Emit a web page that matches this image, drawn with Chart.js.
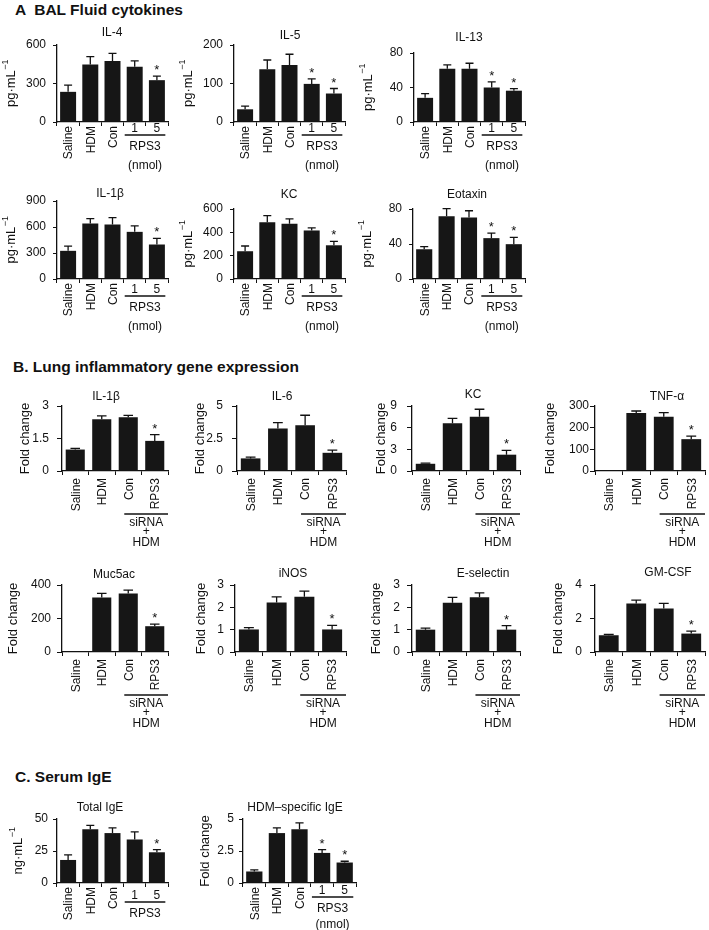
<!DOCTYPE html>
<html><head><meta charset="utf-8">
<script src="https://cdn.jsdelivr.net/npm/chart.js@4.4.1/dist/chart.umd.min.js"></script>
<style>
html,body{margin:0;padding:0;background:#fff;width:709px;height:930px;overflow:hidden;position:relative;font-family:"Liberation Sans",Arial,sans-serif;}
.hd{position:absolute;font-weight:bold;font-size:15.5px;line-height:18px;color:#111;white-space:pre;}
canvas{position:absolute;}
</style></head><body>
<div class="hd" style="left:15px;top:1px">A  BAL Fluid cytokines</div>
<div class="hd" style="left:13px;top:358px">B. Lung inflammatory gene expression</div>
<div class="hd" style="left:15px;top:768px">C. Serum IgE</div>
<script>
// ---------- categories ----------
const doseCats  = ['Saline','HDM','Con','1','5'];
const sirnaCats = ['Saline','HDM','Con','RPS3'];

// ---------- A. BAL fluid cytokines (pg·mL-1) ----------
const il4Mean  = [235, 449, 475, 430, 326];
const il4Err   = [52, 60, 60, 47, 32];
const il4Sig   = [0, 0, 0, 0, 1];
const il4Ticks = [0, 300, 600];

const il5Mean  = [33, 137, 148, 99, 74];
const il5Err   = [8, 24, 28, 13, 13];
const il5Sig   = [0, 0, 0, 1, 1];
const il5Ticks = [0, 100, 200];

const il13Mean  = [28, 61.6, 61.6, 40, 36.3];
const il13Err   = [5, 4.7, 6.5, 6.6, 2.5];
const il13Sig   = [0, 0, 0, 1, 1];
const il13Ticks = [0, 40, 80];

const il1bAMean  = [325, 640, 628, 544, 398];
const il1bAErr   = [54, 57, 80, 69, 70];
const il1bASig   = [0, 0, 0, 0, 1];
const il1bATicks = [0, 300, 600, 900];

const kcAMean  = [238, 487, 473, 416, 289];
const kcAErr   = [45, 56, 42, 23, 34];
const kcASig   = [0, 0, 0, 0, 1];
const kcATicks = [0, 200, 400, 600];

const eotMean  = [34, 71.6, 70.4, 46.7, 39.8];
const eotErr   = [3, 8.8, 7.6, 5.7, 7.7];
const eotSig   = [0, 0, 0, 1, 1];
const eotTicks = [0, 40, 80];

// ---------- B. Lung gene expression (fold change) ----------
const il1bBMean  = [0.99, 2.39, 2.48, 1.39];
const il1bBErr   = [0.05, 0.15, 0.09, 0.29];
const il1bBTicks = [0, 1.5, 3];

const il6Mean  = [0.97, 3.27, 3.52, 1.40];
const il6Err   = [0.1, 0.45, 0.77, 0.21];
const il6Ticks = [0, 2.5, 5];

const kcBMean  = [1.0, 6.6, 7.5, 2.26];
const kcBErr   = [0.1, 0.7, 1.05, 0.6];
const kcBTicks = [0, 3, 6, 9];

const tnfMean  = [1, 268, 250, 147];
const tnfErr   = [0, 9, 19, 14];
const tnfTicks = [0, 100, 200, 300];

const mucMean  = [1, 326, 349, 154];
const mucErr   = [0, 24, 20, 13];
const mucTicks = [0, 200, 400];

const inosMean  = [1.01, 2.22, 2.47, 1.01];
const inosErr   = [0.08, 0.25, 0.26, 0.18];
const inosTicks = [0, 1, 2, 3];

const eselMean  = [1.0, 2.2, 2.45, 1.0];
const eselErr   = [0.07, 0.25, 0.2, 0.18];
const eselTicks = [0, 1, 2, 3];

const gmMean  = [1.0, 2.9, 2.6, 1.1];
const gmErr   = [0.05, 0.2, 0.3, 0.15];
const gmTicks = [0, 1, 2, 3, 4];

const sirnaSig = [0, 0, 0, 1];

// ---------- C. Serum IgE ----------
const tigeMean  = [18, 42, 39, 34, 24];
const tigeErr   = [4, 3, 4, 6, 2];
const tigeSig   = [0, 0, 0, 0, 1];
const tigeTicks = [0, 25, 50];

const higeMean  = [0.9, 3.9, 4.2, 2.35, 1.6];
const higeErr   = [0.12, 0.4, 0.5, 0.25, 0.1];
const higeSig   = [0, 0, 0, 1, 1];
const higeTicks = [0, 2.5, 5];

// ---------- chart specs (built from the arrays above) ----------
const specs = [
  {title:'IL-4',  unit:'pg', cats:doseCats, mean:il4Mean,  err:il4Err,  sig:il4Sig,  ticks:il4Ticks,  group:'dose'},
  {title:'IL-5',  unit:'pg', cats:doseCats, mean:il5Mean,  err:il5Err,  sig:il5Sig,  ticks:il5Ticks,  group:'dose'},
  {title:'IL-13', unit:'pg', cats:doseCats, mean:il13Mean, err:il13Err, sig:il13Sig, ticks:il13Ticks, group:'dose'},
  {title:'IL-1β', unit:'pg', cats:doseCats, mean:il1bAMean,err:il1bAErr,sig:il1bASig,ticks:il1bATicks,group:'dose'},
  {title:'KC',    unit:'pg', cats:doseCats, mean:kcAMean,  err:kcAErr,  sig:kcASig,  ticks:kcATicks,  group:'dose'},
  {title:'Eotaxin',unit:'pg',cats:doseCats, mean:eotMean,  err:eotErr,  sig:eotSig,  ticks:eotTicks,  group:'dose'},
  {title:'IL-1β', unit:'fold', cats:sirnaCats, mean:il1bBMean, err:il1bBErr, sig:sirnaSig, ticks:il1bBTicks, group:'sirna'},
  {title:'IL-6',  unit:'fold', cats:sirnaCats, mean:il6Mean,   err:il6Err,   sig:sirnaSig, ticks:il6Ticks,   group:'sirna'},
  {title:'KC',    unit:'fold', cats:sirnaCats, mean:kcBMean,   err:kcBErr,   sig:sirnaSig, ticks:kcBTicks,   group:'sirna'},
  {title:'TNF-α', unit:'fold', cats:sirnaCats, mean:tnfMean,   err:tnfErr,   sig:sirnaSig, ticks:tnfTicks,   group:'sirna'},
  {title:'Muc5ac',unit:'fold', cats:sirnaCats, mean:mucMean,   err:mucErr,   sig:sirnaSig, ticks:mucTicks,   group:'sirna'},
  {title:'iNOS',  unit:'fold', cats:sirnaCats, mean:inosMean,  err:inosErr,  sig:sirnaSig, ticks:inosTicks,  group:'sirna'},
  {title:'E-selectin',unit:'fold',cats:sirnaCats,mean:eselMean,err:eselErr,  sig:sirnaSig, ticks:eselTicks,  group:'sirna'},
  {title:'GM-CSF',unit:'fold', cats:sirnaCats, mean:gmMean,    err:gmErr,    sig:sirnaSig, ticks:gmTicks,    group:'sirna'},
  {title:'Total IgE', unit:'ng', cats:doseCats, mean:tigeMean, err:tigeErr, sig:tigeSig, ticks:tigeTicks, group:'dose'},
  {title:'HDM–specific IgE', unit:'fold', cats:doseCats, mean:higeMean, err:higeErr, sig:higeSig, ticks:higeTicks, group:'dose'}
];

// ---------- layout (page pixels) ----------
const layouts = [
  {axisX:57,  top:45,  bottom:122, right:168, tx:112, ty:33,  yOff:46, lab:0, nm:44, tl:4, tp:7},
  {axisX:234, top:45,  bottom:122, right:345, tx:290, ty:36,  yOff:46, lab:0, nm:44, tl:4, tp:7},
  {axisX:414, top:53,  bottom:122, right:525, tx:469, ty:38,  yOff:46, lab:0, nm:44, tl:4, tp:7},
  {axisX:57,  top:201, bottom:279, right:168, tx:110, ty:194, yOff:46, lab:4, nm:44, tl:4, tp:7},
  {axisX:234, top:209, bottom:279, right:345, tx:289, ty:195, yOff:46, lab:4, nm:44, tl:4, tp:7},
  {axisX:413, top:209, bottom:279, right:525, tx:467, ty:195, yOff:46, lab:4, nm:44, tl:4, tp:7},
  {axisX:62,  top:406, bottom:471, right:168, tx:106, ty:397, yOff:37, lab:0, nm:44, tl:5, tp:8},
  {axisX:237, top:406, bottom:471, right:346, tx:282, ty:397, yOff:37, lab:0, nm:44, tl:5, tp:9},
  {axisX:412, top:406, bottom:471, right:520, tx:473, ty:395, yOff:31, lab:0, nm:44, tl:5, tp:10},
  {axisX:595, top:406, bottom:471, right:705, tx:667, ty:397, yOff:45, lab:0, nm:44, tl:5, tp:1},
  {axisX:62,  top:585, bottom:652, right:168, tx:114, ty:575, yOff:49, lab:0, nm:44, tl:5, tp:6},
  {axisX:235, top:585, bottom:652, right:346, tx:293, ty:574, yOff:34, lab:0, nm:44, tl:5, tp:6},
  {axisX:412, top:585, bottom:652, right:520, tx:483, ty:574, yOff:36, lab:0, nm:44, tl:5, tp:7},
  {axisX:595, top:585, bottom:652, right:705, tx:668, ty:573, yOff:37, lab:0, nm:44, tl:5, tp:8},
  {axisX:57,  top:819, bottom:883, right:168, tx:100, ty:808, yOff:39, lab:6, nm:52, tl:4, tp:5},
  {axisX:243, top:819, bottom:883, right:356, tx:295, ty:808, yOff:38, lab:1, nm:41, tl:4, tp:5}
];

const FONT = '"Liberation Sans", Arial, sans-serif';
const INK = '#111';
const W_Y = 60, H_X = 80;

function makeDecor(s, L, cLeft, cTop){
  return {
    id:'decor',
    afterDatasetsDraw(chart){
      const ctx = chart.ctx, ys = chart.scales.y;
      const meta = chart.getDatasetMeta(0);
      ctx.save();
      ctx.strokeStyle = INK; ctx.fillStyle = INK; ctx.lineWidth = 1.3;
      meta.data.forEach((bar, i) => {
        const x = bar.x;
        const y0 = ys.getPixelForValue(s.mean[i]);
        const y1 = ys.getPixelForValue(s.mean[i] + s.err[i]);
        const cw = bar.width * 0.5;
        if (s.err[i] > 0) {
          ctx.beginPath();
          ctx.moveTo(x, y0); ctx.lineTo(x, y1);
          ctx.moveTo(x - cw/2, y1); ctx.lineTo(x + cw/2, y1);
          ctx.stroke();
        }
        if (s.sig[i]) {
          ctx.font = '13px ' + FONT;
          ctx.textAlign = 'center'; ctx.textBaseline = 'alphabetic';
          ctx.fillText('*', x, y1 - 2);
        }
      });
      ctx.restore();
    },
    afterDraw(chart){
      const ctx = chart.ctx, xs = chart.scales.x;
      const area = chart.chartArea;
      const base = area.bottom;
      const n = s.cats.length;
      const cw = xs.getPixelForValue(1) - xs.getPixelForValue(0);
      ctx.save();
      ctx.fillStyle = INK; ctx.strokeStyle = INK;
      // chart title
      ctx.font = '12px ' + FONT;
      ctx.textAlign = 'center'; ctx.textBaseline = 'middle';
      ctx.fillText(s.title, L.tx - cLeft, L.ty - cTop);
      // category labels
      s.cats.forEach((c, i) => {
        const x = xs.getPixelForValue(i);
        const horiz = s.group === 'dose' && i >= n - 2;
        ctx.font = '12px ' + FONT;
        if (horiz) {
          ctx.textAlign = 'center'; ctx.textBaseline = 'middle';
          ctx.fillText(c, x, base + 7 + L.lab);
        } else {
          ctx.save();
          ctx.translate(x + 1, base + (s.group === 'dose' ? 4 : 7));
          ctx.rotate(-Math.PI / 2);
          ctx.textAlign = 'right'; ctx.textBaseline = 'middle';
          ctx.fillText(c, 0, 0);
          ctx.restore();
        }
      });
      // group bracket
      const cA = xs.getPixelForValue(n - 2), cB = xs.getPixelForValue(n - 1);
      ctx.lineWidth = 1.3;
      ctx.font = '12px ' + FONT;
      ctx.textAlign = 'center'; ctx.textBaseline = 'middle';
      if (s.group === 'dose') {
        const x1 = cA - 0.45 * cw, x2 = cB + 0.38 * cw, xm = (x1 + x2) / 2;
        const ly = base + 13 + L.lab;
        ctx.beginPath(); ctx.moveTo(x1, ly); ctx.lineTo(x2, ly); ctx.stroke();
        ctx.fillText('RPS3', xm, base + 25 + L.lab);
        ctx.fillText('(nmol)', xm, base + L.nm + L.lab);
      } else {
        const x1 = cA - 0.15 * cw, x2 = cB + 0.5 * cw, xm = (x1 + x2) / 2;
        const ly = base + 43;
        ctx.beginPath(); ctx.moveTo(x1, ly); ctx.lineTo(x2, ly); ctx.stroke();
        ctx.fillText('siRNA', xm, base + 52);
        ctx.fillText('+', xm, base + 61);
        ctx.fillText('HDM', xm, base + 72);
      }
      // y-axis title
      const yx = area.left - L.yOff, yy = (area.top + area.bottom) / 2;
      ctx.save();
      ctx.translate(yx, yy);
      ctx.rotate(-Math.PI / 2);
      ctx.textBaseline = 'middle';
      if (s.unit === 'fold') {
        ctx.font = '13px ' + FONT; ctx.textAlign = 'center';
        ctx.fillText('Fold change', 0, 0);
      } else {
        const main = (s.unit === 'pg' ? 'pg' : 'ng') + '·mL';
        ctx.font = '13px ' + FONT;
        const w1 = ctx.measureText(main).width;
        ctx.font = '9px ' + FONT;
        const w2 = ctx.measureText('−1').width;
        const st = -(w1 + w2) / 2;
        ctx.textAlign = 'left';
        ctx.font = '13px ' + FONT;
        ctx.fillText(main, st, 0);
        ctx.font = '9px ' + FONT;
        ctx.fillText('−1', st + w1 + 0.5, -5);
      }
      ctx.restore();
      ctx.restore();
    }
  };
}

specs.forEach((s, k) => {
  const L = layouts[k];
  const padR = 3;
  const cTop = Math.min(L.ty, L.top) - 12;
  const cLeft = L.axisX - W_Y;
  const w = W_Y + (L.right - L.axisX) + padR;
  const h = (L.bottom - cTop) + H_X;
  const cv = document.createElement('canvas');
  cv.width = w; cv.height = h;
  cv.style.left = cLeft + 'px'; cv.style.top = cTop + 'px';
  cv.style.width = w + 'px'; cv.style.height = h + 'px';
  document.body.appendChild(cv);
  const tickVals = s.ticks;
  new Chart(cv, {
    type: 'bar',
    data: {
      labels: s.cats,
      datasets: [{data: s.mean, backgroundColor: '#161616', borderWidth: 0,
                  barPercentage: 0.72, categoryPercentage: 1}]
    },
    options: {
      responsive: false, animation: false, devicePixelRatio: 1,
      layout: {padding: {top: L.top - cTop, right: padR, left: 0, bottom: 0}},
      plugins: {legend: {display: false}, tooltip: {enabled: false}, title: {display: false}},
      scales: {
        x: {
          offset: true,
          grid: {offset: true, drawOnChartArea: false, drawTicks: true, tickLength: 4, color: INK, lineWidth: 1},
          border: {display: true, color: INK, width: 1.3},
          ticks: {display: false},
          afterFit(sc) { sc.height = H_X; }
        },
        y: {
          min: 0, max: tickVals[tickVals.length - 1],
          grid: {drawOnChartArea: false, drawTicks: true, tickLength: L.tl, color: INK, lineWidth: 1},
          border: {display: true, color: INK, width: 1.3},
          ticks: {font: {size: 12, family: FONT}, color: INK, padding: L.tp, callback: v => String(v)},
          afterBuildTicks(sc) { sc.ticks = tickVals.map(v => ({value: v})); },
          afterFit(sc) { sc.width = W_Y; }
        }
      }
    },
    plugins: [makeDecor(s, L, cLeft, cTop)]
  });
});
</script>
</body></html>
